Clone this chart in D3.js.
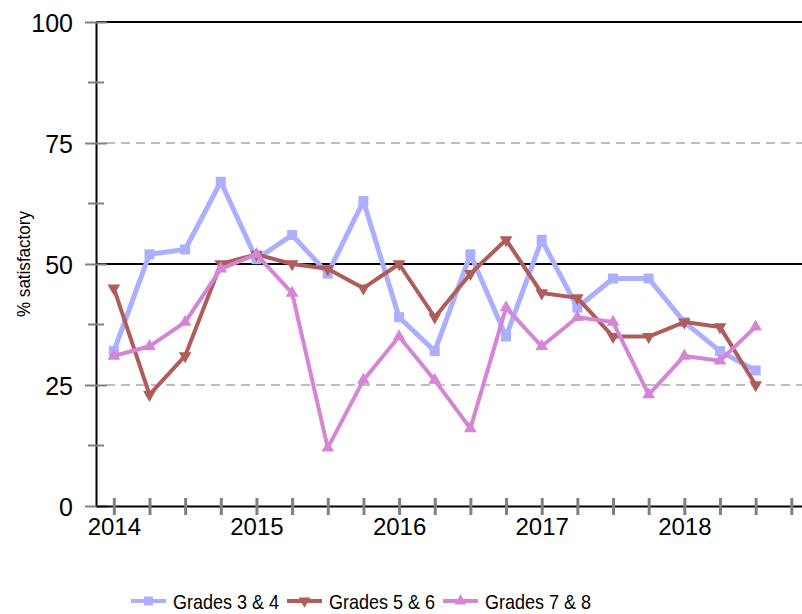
<!DOCTYPE html>
<html>
<head>
<meta charset="utf-8">
<script src="https://cdn.jsdelivr.net/npm/d3@7"></script>
<style>
  body { margin: 0; background: #fff; }
  svg { font-family: 'Liberation Sans', Arial, sans-serif; }
</style>
</head>
<body>
<svg id="chart"></svg>
<script>
const quarters = [
  '2014 Q1', '2014 Q2', '2014 Q3', '2014 Q4',
  '2015 Q1', '2015 Q2', '2015 Q3', '2015 Q4',
  '2016 Q1', '2016 Q2', '2016 Q3', '2016 Q4',
  '2017 Q1', '2017 Q2', '2017 Q3', '2017 Q4',
  '2018 Q1', '2018 Q2', '2018 Q3', '2018 Q4'
]
const yTicks = [0, 25, 50, 75, 100]
const yMinorTicks = [12.5, 37.5, 62.5, 87.5]

const grades34 = [32, 52, 53, 67, 51, 56, 48, 63, 39, 32, 52, 35, 55, 41, 47, 47, 38, 32, 28]
const grades56 = [45, 23, 31, 50, 52, 50, 49, 45, 50, 39, 48, 55, 44, 43, 35, 35, 38, 37, 25]
const grades78 = [31, 33, 38, 49, 52, 44, 12, 26, 35, 26, 16, 41, 33, 39, 38, 23, 31, 30, 37]

const series = [
  { name: 'Grades 3 & 4', values: grades34, color: '#abafff', width: 5, symbol: d3.symbolSquare, rot: 0 },
  { name: 'Grades 5 & 6', values: grades56, color: '#b05c58', width: 4, symbol: d3.symbolTriangle, rot: 180 },
  { name: 'Grades 7 & 8', values: grades78, color: '#d685d6', width: 4, symbol: d3.symbolTriangle, rot: 0 }
]

const width = 802
const height = 614
const margin = { top: 22, right: 0, bottom: 108, left: 96 }

const svg = d3.select('#chart')
  .attr('width', width)
  .attr('height', height)

const x = d3.scaleLinear()
  .domain([-0.5, 19.3])
  .range([margin.left, width - margin.right])

const y = d3.scaleLinear()
  .domain([0, 100])
  .range([height - margin.bottom, margin.top])

// dashed gridlines
svg.append('g')
  .selectAll('line')
  .data([25, 75])
  .join('line')
  .attr('x1', margin.left + 10)
  .attr('x2', width)
  .attr('y1', d => y(d))
  .attr('y2', d => y(d))
  .attr('stroke', '#aaa')
  .attr('stroke-width', 1.5)
  .attr('stroke-dasharray', '9,6')

// solid lines at 50 and 100
svg.append('g')
  .selectAll('line')
  .data([50, 100])
  .join('line')
  .attr('x1', margin.left)
  .attr('x2', width)
  .attr('y1', d => y(d))
  .attr('y2', d => y(d))
  .attr('stroke', '#000')
  .attr('stroke-width', 2)

// y axis
const yAxis = svg.append('g')
  .attr('transform', `translate(${margin.left},0)`)
  .call(d3.axisLeft(y).tickValues(yTicks).tickSize(0).tickPadding(23))
yAxis.select('.domain').attr('stroke', '#000').attr('stroke-width', 2)
yAxis.selectAll('.tick text')
  .attr('font-size', 25)
  .attr('dy', '0.36em')
  .attr('fill', '#000')
yAxis.selectAll('.tick line')
  .attr('x1', -11).attr('x2', 11)
  .attr('stroke', '#808080').attr('stroke-width', 2)

svg.append('g')
  .selectAll('line')
  .data(yMinorTicks)
  .join('line')
  .attr('x1', margin.left - 8)
  .attr('x2', margin.left + 8)
  .attr('y1', d => y(d))
  .attr('y2', d => y(d))
  .attr('stroke', '#808080')
  .attr('stroke-width', 2)

// x axis
const xAxis = svg.append('g')
  .attr('transform', `translate(0,${y(0)})`)
  .call(d3.axisBottom(x)
    .tickValues(d3.range(quarters.length))
    .tickSize(0)
    .tickPadding(12)
    .tickFormat(i => i % 4 === 0 ? quarters[i].slice(0, 4) : ''))
xAxis.select('.domain').attr('stroke', '#000').attr('stroke-width', 2)
xAxis.selectAll('.tick text')
  .attr('font-size', 24)
  .attr('fill', '#000')
xAxis.selectAll('.tick line')
  .attr('y1', -8).attr('y2', 9)
  .attr('stroke', '#808080').attr('stroke-width', 3)

// y axis title
svg.append('text')
  .attr('transform', `translate(30,${y(50)}) rotate(-90)`)
  .attr('text-anchor', 'middle')
  .attr('font-size', 18)
  .attr('textLength', 106)
  .attr('lengthAdjust', 'spacingAndGlyphs')
  .text('% satisfactory')

// series
const line = d3.line()
  .x((d, i) => x(i))
  .y(d => y(d))

series.forEach(s => {
  const g = svg.append('g')
  g.append('path')
    .datum(s.values)
    .attr('fill', 'none')
    .attr('stroke', s.color)
    .attr('stroke-width', s.width)
    .attr('stroke-linejoin', 'round')
    .attr('d', line)
  g.selectAll('path.pt')
    .data(s.values)
    .join('path')
    .attr('class', 'pt')
    .attr('transform', (d, i) => `translate(${x(i)},${y(d)}) rotate(${s.rot})`)
    .attr('d', d3.symbol().type(s.symbol).size(s.symbol === d3.symbolSquare ? 100 : 70))
    .attr('fill', s.color)
})

// legend
const legendX = [131, 287, 443]
const legendY = 601
series.forEach((s, k) => {
  const g = svg.append('g')
    .attr('transform', `translate(${legendX[k]},${legendY})`)
  g.append('line')
    .attr('x1', 0).attr('x2', 35)
    .attr('stroke', s.color)
    .attr('stroke-width', 4)
  g.append('path')
    .attr('transform', `translate(17.5,0) rotate(${s.rot})`)
    .attr('d', d3.symbol().type(s.symbol).size(s.symbol === d3.symbolSquare ? 80 : 60))
    .attr('fill', s.color)
  g.append('text')
    .attr('x', 42)
    .attr('y', 8)
    .attr('font-size', 21)
    .attr('textLength', 106)
    .attr('lengthAdjust', 'spacingAndGlyphs')
    .text(s.name)
})
</script>
</body>
</html>
